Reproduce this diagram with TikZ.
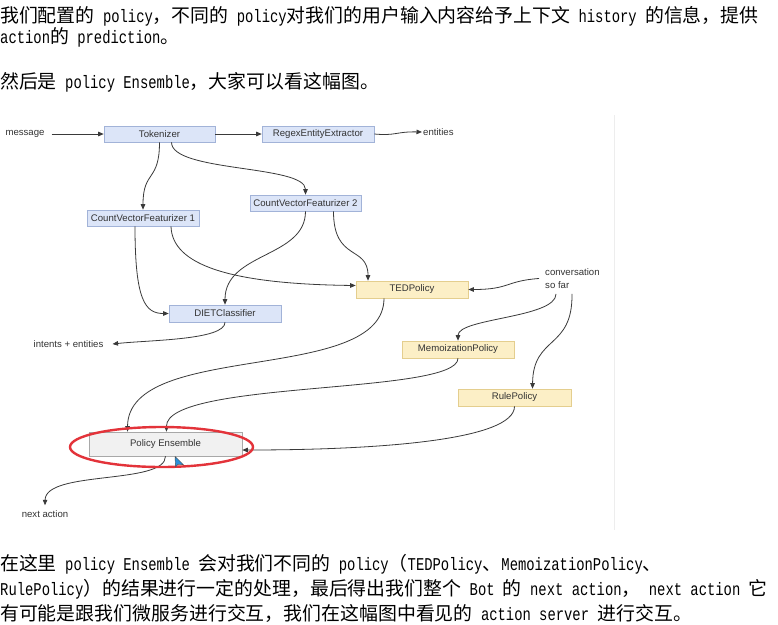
\documentclass[tikz,border=0pt]{standalone}
\usepackage{fontspec}
\usetikzlibrary{arrows.meta}
\newfontfamily\cjk{Noto Sans CJK SC}
\newfontfamily\mono[FakeStretch=0.77]{Liberation Mono}
\newfontfamily\dsans{Liberation Sans}
\newcommand\C[1]{{\cjk\fontsize{18.9}{24}\selectfont #1}}
\newcommand\Lt[1]{{\mono\fontsize{18}{24}\selectfont #1}}
\definecolor{boxblue}{HTML}{DCE5F8}
\definecolor{boxblueline}{HTML}{A2B3D8}
\definecolor{boxyel}{HTML}{FCEFC6}
\definecolor{boxyelline}{HTML}{E4CE8E}
\definecolor{boxgray}{HTML}{F1F1F1}
\definecolor{boxgrayline}{HTML}{A8A8A8}
\definecolor{linec}{HTML}{3A3A3A}
\definecolor{redc}{HTML}{E3333A}
\definecolor{cursorc}{HTML}{2A8FD8}
\definecolor{txt}{HTML}{333333}
\begin{document}
\begin{tikzpicture}[x=1pt,y=-1pt,
  box/.style={draw, line width=0.6pt, minimum height=16, inner sep=0,
    font=\dsans\fontsize{9.6}{11}\selectfont, text=txt},
  bbox/.style={box, fill=boxblue, draw=boxblueline},
  ybox/.style={box, fill=boxyel, draw=boxyelline},
  gbox/.style={box, fill=boxgray, draw=boxgrayline},
  conn/.style={draw=linec, line width=0.8pt, -{Triangle[length=5.5pt,width=4.5pt]}},
  lbl/.style={font=\dsans\fontsize{9.6}{13.5}\selectfont, text=txt, inner sep=0},
  para/.style={anchor=base west, inner sep=0, text=black}]
\useasboundingbox (0,0) rectangle (778,624);
\fill[white] (0,0) rectangle (778,624);

% paragraph text
\node[para] (p1) at (0,22) {\C{我们配置的}\Lt{\ policy}\C{，不同的}\Lt{\ policy}\C{对我们的用户输入内容给予上下文}\Lt{\ history\ }\C{的信息，提供}};
\node[para] (p2) at (0,43) {\Lt{action}\C{的}\Lt{\ prediction}\C{。}};
\node[para] (p3) at (0,88) {\C{然后是}\Lt{\ policy\ Ensemble}\C{，大家可以看这幅图。}};
\node[para] (p4) at (0,570) {\C{在这里}\Lt{\ policy\ Ensemble\ }\C{会对我们不同的}\Lt{\ policy}\C{（}\Lt{TEDPolicy}\C{、}\Lt{MemoizationPolicy}\C{、}};
\node[para] (p5) at (0,595) {\Lt{RulePolicy}\C{）的结果进行一定的处理，最后得出我们整个}\Lt{\ Bot\ }\C{的}\Lt{\ next\ action}\C{，}\Lt{\ next\ action\ }\C{它}};
\node[para] (p6) at (0,620) {\C{有可能是跟我们微服务进行交互，我们在这幅图中看见的}\Lt{\ action\ server\ }\C{进行交互。}};

% faint image edge
\draw[black!7, line width=0.8pt] (614,115) -- (614,530);

% boxes
\node[bbox, minimum width=111] (tok) at (159.5,134) {Tokenizer};
\node[bbox, minimum width=112] (rex) at (318,134) {RegexEntityExtractor};
\node[bbox, minimum width=111] (cvf2) at (305.5,203) {CountVectorFeaturizer 2};
\node[bbox, minimum width=112] (cvf1) at (143,218) {CountVectorFeaturizer 1};
\node[ybox, minimum width=112, minimum height=17] (ted) at (412,289.5) {TEDPolicy};
\node[bbox, minimum width=112, minimum height=17] (diet) at (225,313.5) {DIETClassifier};
\node[ybox, minimum width=112, minimum height=17] (memo) at (458,349.5) {MemoizationPolicy};
\node[ybox, minimum width=113, minimum height=17] (rule) at (514.5,397.5) {RulePolicy};
\node[gbox, minimum width=153, minimum height=24] (pe) at (165.5,444) {Policy Ensemble};

% labels
\node[lbl] (msg) at (25,134) {message};
\node[lbl, anchor=west] (ent) at (423,132) {entities};
\node[lbl, align=left, anchor=north west] (conv) at (545,268) {conversation\\so far};
\node[lbl] (ie) at (68.5,344) {intents + entities};
\node[lbl] (na) at (45,514) {next action};

% connectors
\draw[conn] ([xshift=7]msg.east) -- (tok.west);
\draw[conn] (tok.east) -- (rex.west);
\draw[conn] (rex.east) .. controls (396,136) and (396,131.5) .. ([xshift=-1]ent.west);
\draw[conn] (tok.south) .. controls +(0,40) and +(0,-40) .. (cvf1.north);
\draw[conn] ([xshift=12]tok.south) .. controls +(0,30) and +(0,-30) .. (cvf2.north);
\draw[conn] ([xshift=-8]cvf1.south) .. controls (135,300) and (145,313.5) .. (diet.west);
\draw[conn] ([xshift=28]cvf1.south) .. controls (172,265) and (230,284) .. ([yshift=4]ted.west);
\draw[conn] (cvf2.south) .. controls (305.5,258) and (225,252) .. (diet.north);
\draw[conn] ([xshift=28]cvf2.south) .. controls (333.5,262) and (368,245) .. ([xshift=-44]ted.north);
\draw[conn] ([xshift=-6]conv.west) .. controls (505,281) and (510,289.5) .. (ted.east);
\draw[conn] ([xshift=11,yshift=-5]conv.south west) .. controls (556,318) and (458,318) .. (memo.north);
\draw[conn] ([xshift=27,yshift=-5]conv.south west) .. controls (572.7,350) and (533,335) .. ([xshift=18]rule.north);
\draw[conn] ([xshift=-28]ted.south) .. controls (384,385) and (128,340) .. ([xshift=-38]pe.north);
\draw[conn] (memo.south) .. controls (458,395) and (166,380) .. ([xshift=1]pe.north);
\draw[conn] (rule.south) .. controls (514.5,440) and (380,450) .. ([yshift=-6]pe.east);
\draw[conn] (pe.south) .. controls (165.5,485) and (45.5,470) .. ([yshift=5]na.north);
\draw[conn] (diet.south) .. controls (225,340) and (150,340) .. ([xshift=9]ie.east);

% red highlight
\draw[redc, line width=2.4pt] (161.5,447) ellipse [x radius=91.5pt, y radius=20pt];

% mouse cursor
\filldraw[fill=cursorc, draw=black!70, line width=0.4pt]
  (175,456.5) -- (175.5,467) -- (178,464.3) -- (183.5,464.8) -- cycle;
\end{tikzpicture}
\end{document}
